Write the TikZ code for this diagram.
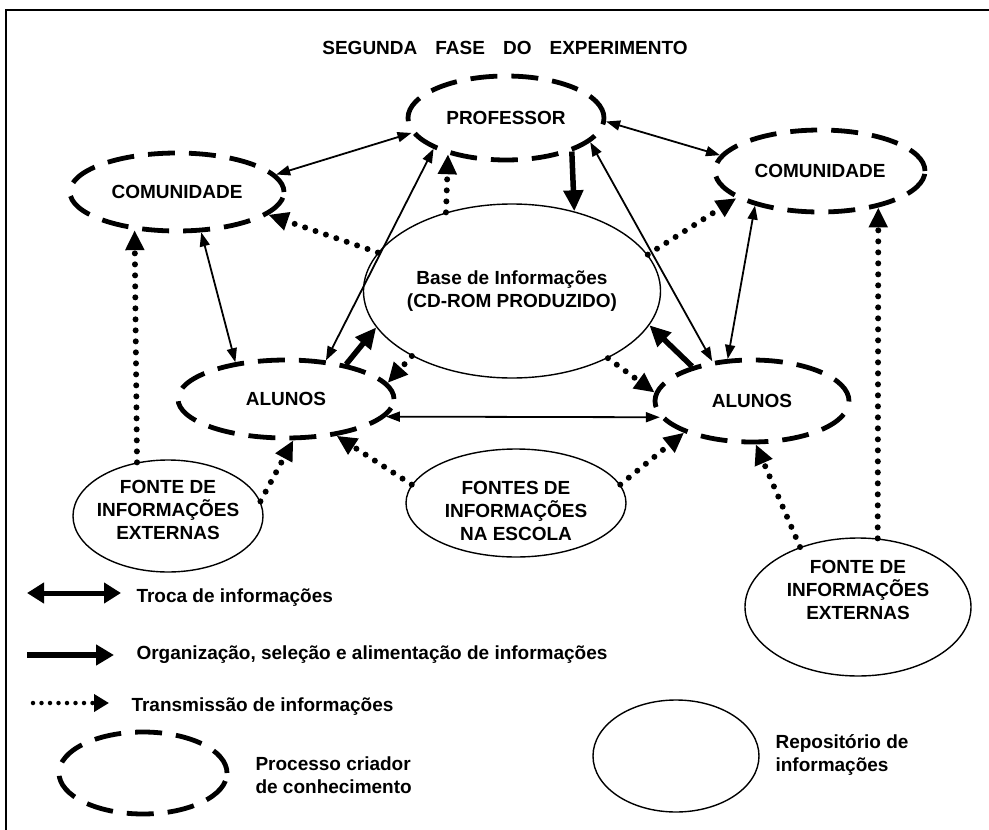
\documentclass[tikz,border=0pt]{standalone}
\usepackage{fontspec}
\setmainfont{Liberation Sans}
\usetikzlibrary{shapes.geometric,arrows.meta}

\begin{document}
\begin{tikzpicture}[x=1pt,y=-1pt,
  font=\fontsize{19}{23}\selectfont\bfseries,
  proc/.style={ellipse,draw,line width=4.8pt,dash pattern=on 27pt off 14pt,inner sep=0pt},
  repo/.style={ellipse,draw,line width=1.4pt,inner sep=0pt},
  lbl/.style={align=center,font=\fontsize{19}{23}\selectfont\bfseries},
  troca/.style={{Triangle[length=14pt,width=10pt]}-{Triangle[length=14pt,width=10pt]},line width=1.8pt},
  organ/.style={-{Triangle[length=21pt,width=19pt]},line width=5.5pt},
  transm/.style={-{Triangle[length=20pt,width=18pt]},line width=6pt,line cap=round,dash pattern=on 0pt off 11pt}]

    \useasboundingbox (0,0) rectangle (989,830);
    \draw[line width=1.5pt] (6,830) -- (6,10) -- (989,10);

    \node (title) at (505,48) {SEGUNDA\hspace{0.95em}FASE\hspace{0.95em}DO\hspace{0.95em}EXPERIMENTO};

    % The graph
    \node[proc, minimum width=196pt, minimum height=84pt] (prof) at (506,118) {PROFESSOR};
    \node[proc, minimum width=214pt, minimum height=78pt] (comL) at (177,192) {COMUNIDADE};
    \node[proc, minimum width=210pt, minimum height=82pt] (comR) at (820,171) {COMUNIDADE};
    \node[repo, minimum width=220pt, minimum height=174pt, align=center] (base) at (512,291) {Base de Informações\\(CD-ROM PRODUZIDO)};
    \node[proc, minimum width=216pt, minimum height=78pt] (aluL) at (286,399) {ALUNOS};
    \node[proc, minimum width=194pt, minimum height=82pt] (aluR) at (752,401) {ALUNOS};

    \node[repo, minimum width=190pt, minimum height=112pt,
      label={[lbl,yshift=6pt]center:FONTE\ DE\\INFORMAÇÕES\\EXTERNAS}] (extL) at (168,516) {};
    \node[repo, minimum width=220pt, minimum height=108pt,
      label={[lbl,yshift=-8pt]center:FONTES DE\\INFORMAÇÕES\\NA ESCOLA}] (esc) at (516,503) {};
    \node[repo, minimum width=226pt, minimum height=138pt,
      label={[lbl,yshift=17pt]center:FONTE\ DE\\INFORMAÇÕES\\EXTERNAS}] (extR) at (858,607) {};

    % Graph edges
    \path[troca]
    (comL.10) edge (prof.189)
    (prof.-2) edge (comR.171)
    (comL.-59) edge (aluL.144)
    (prof.203) edge (aluL.44)
    (prof.-16) edge (aluR.135)
    (comR.208) edge (aluR.120)
    (aluL.-10) edge (aluR.190);

    \path[organ]
    (prof.-27) edge (base.52)
    (aluL.30) edge (base.195)
    (aluR.150) edge (base.-14);

    \path[transm]
    (base.130) edge (prof.212)
    (base.164) edge (comL.-14)
    (base.15) edge (comR.198)
    (base.213) edge (aluL.9)
    (base.-35) edge (aluR.175)
    (extL.120) edge (comL.222)
    (extL.9) edge (aluL.-80)
    (esc.170) edge (aluL.-36)
    (esc.10) edge (aluR.205)
    (extR.134) edge (aluR.-85)
    (extR.74) edge (comR.-32);

    % Legend
    \coordinate (lgt1) at (27,593);
    \coordinate (lgt2) at (121,593);
    \draw[{Triangle[length=17pt,width=20pt]}-{Triangle[length=17pt,width=20pt]},line width=5pt] (lgt1) -- (lgt2);
    \node[anchor=west] (lgtroca) at (133,598) {Troca de informações};

    \coordinate (lgo1) at (27,655);
    \coordinate (lgo2) at (114,655);
    \draw[-{Triangle[length=18pt,width=20pt]},line width=6pt] (lgo1) -- (lgo2);
    \node[anchor=west] (lgorgan) at (133,655) {Organização, seleção e alimentação de informações};

    \coordinate (lgd1) at (33,703);
    \coordinate (lgd2) at (109,703);
    \draw[-{Triangle[length=15pt,width=17pt]},line width=4.5pt,line cap=round,dash pattern=on 0pt off 8.5pt] (lgd1) -- (lgd2);
    \node[anchor=west] (lgtransm) at (128,707) {Transmissão de informações};

    \node[proc, minimum width=168pt, minimum height=82pt] (lgproc) at (143,773) {};
    \node[anchor=west, align=left] (lgproctxt) at (252,775) {Processo criador\\de conhecimento};

    \node[repo, minimum width=166pt, minimum height=112pt] (lgrepo) at (676,756) {};
    \node[anchor=west, align=left] (lgrepotxt) at (772,755) {Repositório de\\informações};

\end{tikzpicture}
\end{document}
